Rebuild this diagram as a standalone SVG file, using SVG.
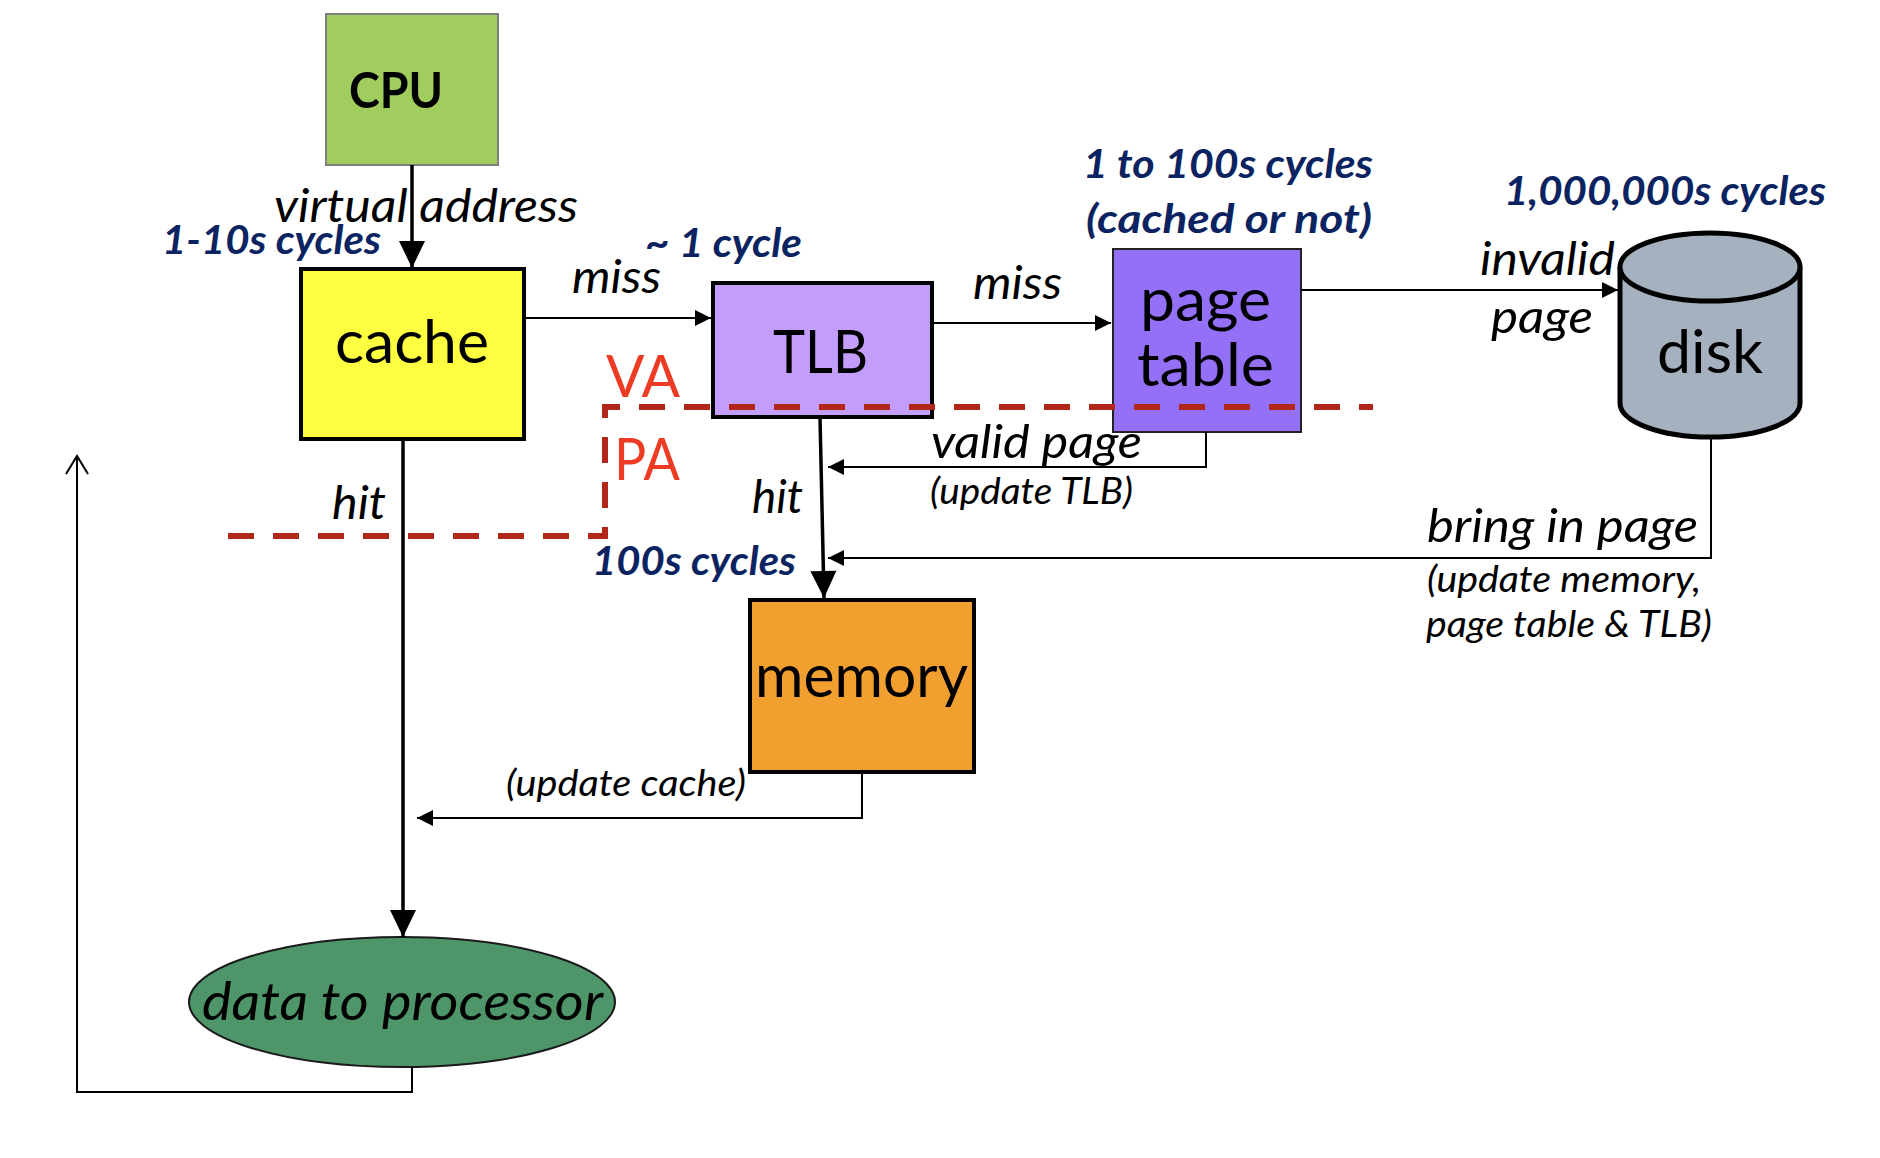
<svg xmlns="http://www.w3.org/2000/svg" width="1880" height="1158" viewBox="0 0 1880 1158">
<style>
text{font-family:Lato,"Liberation Sans",sans-serif;fill:#000}
.node{font-size:60px}
.lbl{font-size:46px;font-style:italic}
.sm{font-size:36px;font-style:italic}
.cyc{font-size:41px;font-style:italic;font-weight:bold;fill:#0b2461}
.red{font-size:59px;fill:#ee3b24}
.thin{stroke:#000;stroke-width:2;fill:none}
.thick{stroke:#000;stroke-width:3.5;fill:none}
</style>
<defs>
<marker id="big" markerUnits="userSpaceOnUse" markerWidth="28" markerHeight="28" refX="27" refY="13" orient="auto" overflow="visible"><path d="M0,0 L27,13 L0,26 z" fill="#000"/></marker>
<marker id="sml" markerUnits="userSpaceOnUse" markerWidth="18" markerHeight="18" refX="16" refY="8" orient="auto" overflow="visible"><path d="M0,0 L16,8 L0,16 z" fill="#000"/></marker>
<marker id="open" markerUnits="userSpaceOnUse" markerWidth="20" markerHeight="24" refX="18" refY="11" orient="auto" overflow="visible"><path d="M0,0 L18,11 L0,22" fill="none" stroke="#000" stroke-width="2"/></marker>
</defs>
<rect width="1880" height="1158" fill="#fff"/>

<g id="cpu">
<rect x="326" y="14" width="172" height="151" fill="#a1cd5e" stroke="#808080" stroke-width="2"/>
<text x="349" y="108" font-size="50" font-weight="bold" textLength="94" lengthAdjust="spacingAndGlyphs">CPU</text>
</g>

<g id="cache">
<rect x="301" y="269" width="223" height="170" fill="#ffff41" stroke="#000" stroke-width="4"/>
<text class="node" x="335" y="363" textLength="154" lengthAdjust="spacingAndGlyphs">cache</text>
</g>

<g id="tlb">
<rect x="713" y="283" width="219" height="134" fill="#c39dfb" stroke="#000" stroke-width="4"/>
<text class="node" x="773" y="373" textLength="95" lengthAdjust="spacingAndGlyphs">TLB</text>
</g>

<g id="pagetable">
<rect x="1113" y="249" width="188" height="183" fill="#9370f5" stroke="#222" stroke-width="2"/>
<text class="node" x="1140" y="321" textLength="131" lengthAdjust="spacingAndGlyphs">page</text>
<text class="node" x="1137" y="386" textLength="137" lengthAdjust="spacingAndGlyphs">table</text>
</g>

<g id="disk">
<path d="M1620,267 V403 A90,34 0 0 0 1800,403 V267" fill="#a5b1be" stroke="#000" stroke-width="5"/>
<ellipse cx="1710" cy="267" rx="90" ry="34" fill="#a5b1be" stroke="#000" stroke-width="5"/>
<text class="node" x="1657" y="373" textLength="106" lengthAdjust="spacingAndGlyphs">disk</text>
</g>

<g id="memory">
<rect x="750" y="600" width="224" height="172" fill="#f19f2e" stroke="#000" stroke-width="4"/>
<text class="node" x="755" y="697" textLength="213" lengthAdjust="spacingAndGlyphs">memory</text>
</g>

<g id="data">
<ellipse cx="402" cy="1002" rx="213" ry="65" fill="#4e956a" stroke="#1a1a1a" stroke-width="2"/>
<text x="202" y="1020" font-size="52" font-style="italic" textLength="401" lengthAdjust="spacingAndGlyphs">data to processor</text>
</g>

<g id="vapa">
<path d="M228,536 H605 V407 H1373" fill="none" stroke="#b3261a" stroke-width="6" stroke-dasharray="26 19"/>
<text class="red" x="606" y="397" textLength="74" lengthAdjust="spacingAndGlyphs">VA</text>
<text class="red" x="614" y="480" textLength="66" lengthAdjust="spacingAndGlyphs">PA</text>
</g>

<g id="connectors">
<line class="thick" x1="412" y1="165" x2="412" y2="268" marker-end="url(#big)"/>
<line class="thin" x1="524" y1="318" x2="711" y2="318" marker-end="url(#sml)"/>
<line class="thin" x1="932" y1="323" x2="1111" y2="323" marker-end="url(#sml)"/>
<line class="thin" x1="1301" y1="290" x2="1618" y2="290" marker-end="url(#sml)"/>
<polyline class="thin" points="1206,432 1206,467 828,467" marker-end="url(#sml)"/>
<polyline class="thin" points="1711,437 1711,558 828,558" marker-end="url(#sml)"/>
<line class="thick" x1="820" y1="417" x2="824" y2="598" marker-end="url(#big)"/>
<polyline class="thin" points="862,772 862,818 417,818" marker-end="url(#sml)"/>
<line class="thick" x1="403" y1="439" x2="403" y2="937" marker-end="url(#big)"/>
<polyline class="thin" points="412,1067 412,1092 77,1092 77,456" marker-end="url(#open)"/>
</g>

<g id="labels">
<text class="lbl" x="274" y="222" textLength="304" lengthAdjust="spacingAndGlyphs">virtual address</text>
<text class="cyc" x="162" y="254" textLength="219" lengthAdjust="spacingAndGlyphs">1-10s cycles</text>
<text class="lbl" x="572" y="293" textLength="89" lengthAdjust="spacingAndGlyphs">miss</text>
<text class="cyc" x="645" y="257" textLength="157" lengthAdjust="spacingAndGlyphs">~ 1 cycle</text>
<text class="lbl" x="973" y="299" textLength="89" lengthAdjust="spacingAndGlyphs">miss</text>
<text class="cyc" x="1083" y="178" textLength="290" lengthAdjust="spacingAndGlyphs">1 to 100s cycles</text>
<text class="cyc" x="1086" y="233" textLength="286" lengthAdjust="spacingAndGlyphs">(cached or not)</text>
<text class="cyc" x="1504" y="205" textLength="322" lengthAdjust="spacingAndGlyphs">1,000,000s cycles</text>
<text class="lbl" x="1480" y="275" textLength="135" lengthAdjust="spacingAndGlyphs">invalid</text>
<text class="lbl" x="1491" y="333" textLength="102" lengthAdjust="spacingAndGlyphs">page</text>
<text class="lbl" x="931" y="458" textLength="211" lengthAdjust="spacingAndGlyphs">valid page</text>
<text class="sm" x="930" y="504" textLength="203" lengthAdjust="spacingAndGlyphs">(update TLB)</text>
<text class="lbl" x="752" y="513" textLength="51" lengthAdjust="spacingAndGlyphs">hit</text>
<text class="cyc" x="592" y="575" textLength="204" lengthAdjust="spacingAndGlyphs">100s cycles</text>
<text class="lbl" x="1427" y="542" textLength="271" lengthAdjust="spacingAndGlyphs">bring in page</text>
<text class="sm" x="1427" y="592" textLength="274" lengthAdjust="spacingAndGlyphs">(update memory,</text>
<text class="sm" x="1426" y="637" textLength="286" lengthAdjust="spacingAndGlyphs">page table &amp; TLB)</text>
<text class="lbl" x="332" y="519" textLength="54" lengthAdjust="spacingAndGlyphs">hit</text>
<text class="sm" x="506" y="796" textLength="240" lengthAdjust="spacingAndGlyphs">(update cache)</text>
</g>
</svg>
